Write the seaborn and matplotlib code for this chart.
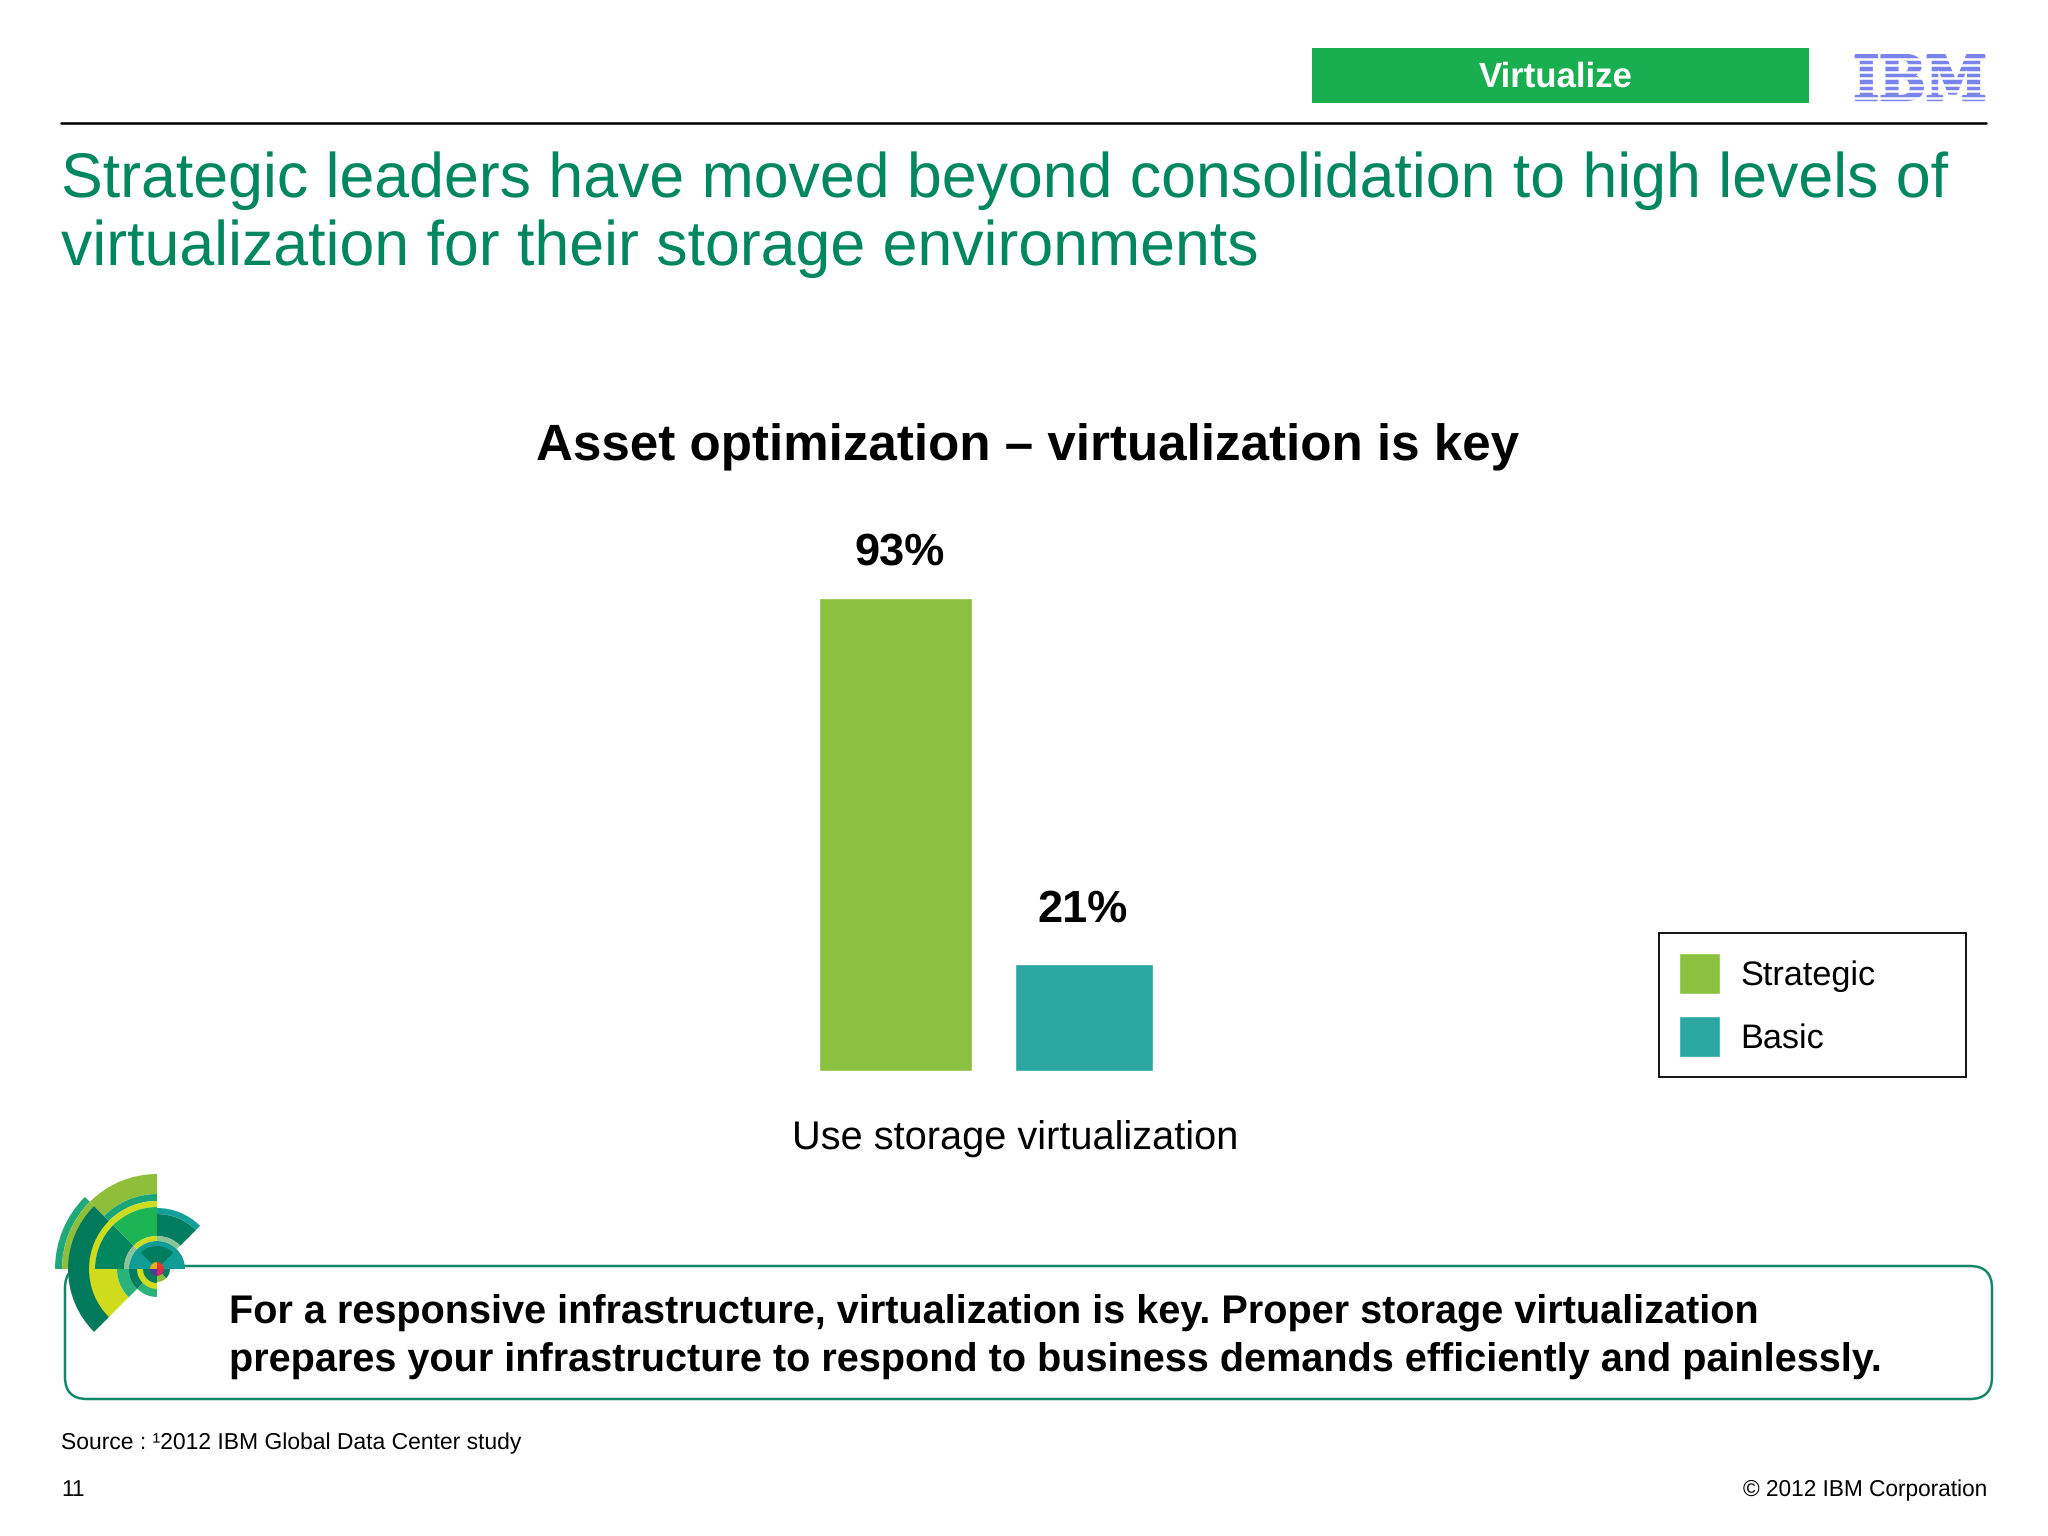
# Storage virtualization slide - bar chart with slide furniture
import matplotlib
matplotlib.use('Agg')
import matplotlib.pyplot as plt
import matplotlib.patheffects as pe
from matplotlib.patches import Rectangle, FancyBboxPatch, Wedge
import pandas as pd
import seaborn as sns

# 1. Data
groups = ['Use storage virtualization']
segments = ['Strategic', 'Basic']
values = [93, 21]
bar_colors = ['#8AC23F', '#29A7A0']

headline = ['Strategic leaders have moved beyond consolidation to high levels of',
            'virtualization for their storage environments']
chart_title = 'Asset optimization \u2013 virtualization is key'
callout = ['For a responsive infrastructure, virtualization is key. Proper storage virtualization',
           'prepares your infrastructure to respond to business demands efficiently and painlessly.']
source = 'Source : \u00b92012 IBM Global Data Center study'
page_no = '11'
copyright_text = '\u00a9 2012 IBM Corporation'

# 2. Theme
sns.set_theme(style='white')
plt.rcParams['font.family'] = ['Liberation Sans', 'DejaVu Sans']
plt.rcParams['text.hinting'] = 'none'

W, H = 2048, 1536
GREEN = '#00875F'
fig = plt.figure(figsize=(W / 100, H / 100), dpi=100)

# full slide axes in pixel coordinates, for the furniture
bg = fig.add_axes([0, 0, 1, 1])
bg.set_xlim(0, W)
bg.set_ylim(H, 0)
bg.axis('off')

# 3. Header
bg.add_patch(Rectangle((1312, 48), 497, 55, color='#19AE50', lw=0))
bg.text(1556, 78, 'Virtualize', color='white', fontsize=25, fontweight='bold', ha='center', va='center')
logo = bg.text(1920, 83, 'IBM', color='#7B84EC', fontsize=44, fontweight='bold', family='DejaVu Serif',
               stretch='condensed', ha='center', va='center')
logo.set_path_effects([pe.withStroke(linewidth=2, foreground='#7B84EC')])
for yy in [52, 58.5, 65, 71.5, 78, 84.5, 91, 97.5, 104]:
    bg.plot([1850, 1990], [yy, yy], color='white', lw=1.8, zorder=4)
bg.plot([61, 1986], [123, 123], color='black', lw=1.8)

bg.text(61, 181, headline[0], color=GREEN, fontsize=45.1, va='center')
bg.text(61, 249, headline[1], color=GREEN, fontsize=45.1, va='center')
bg.text(1028, 447, chart_title, color='black', fontsize=36.8, fontweight='bold', ha='center', va='center')

# 4. Callout box and burst logo
bg.add_patch(FancyBboxPatch((65, 1266), 1927, 133, boxstyle='round,pad=0,rounding_size=22',
                            fc='white', ec='#13876A', lw=1.8))
bg.text(229, 1313, callout[0], color='black', fontsize=28.5, fontweight='bold', va='center')
bg.text(229, 1361, callout[1], color='black', fontsize=28.5, fontweight='bold', va='center')

# (r_out, r_in, angle_from, angle_to, colour) - radii in px, angles counter-clockwise from east
burst = [
    (95, 75, 90, 135, '#8FBE3A'), (75, 68, 90, 135, '#1AA578'),
    (102, 95, 135, 180, '#1FA87A'), (95, 88, 135, 180, '#8FBE3A'),
    (89, 67, 135, 225, '#007A5A'),
    (68, 40, 180, 225, '#CFDC1E'), (68, 62, 90, 180, '#CFDC1E'),
    (62, 33, 90, 135, '#1DB554'), (62, 33, 135, 180, '#00875F'),
    (61, 55, 45, 90, '#149F9B'), (55, 33, 45, 90, '#007D5F'),
    (33, 28, 45, 90, '#8CC49A'), (33, 28, 135, 180, '#8CC49A'), (33, 28, 90, 135, '#CFDC1E'),
    (28, 0, 0, 180, '#119C96'), (23, 0, 45, 135, '#007D5F'),
    (40, 27, 180, 225, '#2BB27A'), (28, 0, 225, 270, '#2BB27A'), (28, 0, 180, 225, '#007D5F'),
    (20, 0, 180, 270, '#CFDC1E'), (14, 0, 180, 270, '#007D5F'),
    (13, 0, 270, 315, '#8FBE3A'), (13, 0, 315, 360, '#007D5F'),
    (7, 0, 0, 90, '#E03A2E'), (7, 0, 90, 180, '#F2A81D'),
    (7, 0, 180, 270, '#4B3A9E'), (7, 0, 270, 360, '#D02C5A'),
]
for r_out, r_in, a1, a2, col in burst:
    # y axis points down, so the angles flip
    bg.add_patch(Wedge((157, 1269), r_out, -a2, -a1, width=r_out - r_in, color=col, lw=0, zorder=3))

# 5. Footer
bg.text(61, 1443, source, color='black', fontsize=16.5, va='center')
bg.text(61, 1490, page_no, color='black', fontsize=16.3, va='center')
bg.text(1987, 1490, copyright_text, color='black', fontsize=16.3, ha='right', va='center')

# 6. The bar chart
df = pd.DataFrame({'group': groups * 2, 'segment': segments, 'value': values})
ax = fig.add_axes([700 / W, (H - 1071) / H, 580 / W, 509 / H])
ax.patch.set_alpha(0)
sns.barplot(data=df, x='group', y='value', hue='segment', palette=bar_colors,
            width=0.8, gap=0.23, saturation=1, ax=ax)
ax.set_xlim(-0.616, 0.616)
ax.set_ylim(0, 100)
ax.set_xlabel('')
ax.set_ylabel('')
ax.set_yticks([])
ax.set_xticks([0.053], labels=groups)
ax.tick_params(axis='x', length=0, pad=36, labelsize=28.6, labelcolor='black')
sns.despine(ax=ax, left=True, bottom=True)

# the two bars are not quite the same width on the slide, labels sit a bit off too
for container, bar_w, off in zip(ax.containers, [0.325, 0.293], [(3, 17), (-1, 24)]):
    for bar in container:
        mid = bar.get_x() + bar.get_width() / 2
        bar.set_width(bar_w)
        bar.set_x(mid - bar_w / 2)
    for lab in ax.bar_label(container, fmt='%g%%', fontsize=32.5, fontweight='bold', color='black'):
        lab.xyann = off

# 7. Legend
handles, labels = ax.get_legend_handles_labels()
ax.legend(handles, labels, loc='lower left', bbox_to_anchor=(1659 / W, (H - 1077) / H, 307 / W, 143 / H),
          bbox_transform=fig.transFigure, mode='expand', borderaxespad=0, fontsize=24.7,
          handlelength=1.2, handleheight=1.485, handletextpad=0.6, labelspacing=0.62, borderpad=0.58,
          fancybox=False, framealpha=1, edgecolor='black', facecolor='white', labelcolor='black')
ax.get_legend().get_frame().set_linewidth(1.3)

fig.savefig('out.png', dpi=100)
